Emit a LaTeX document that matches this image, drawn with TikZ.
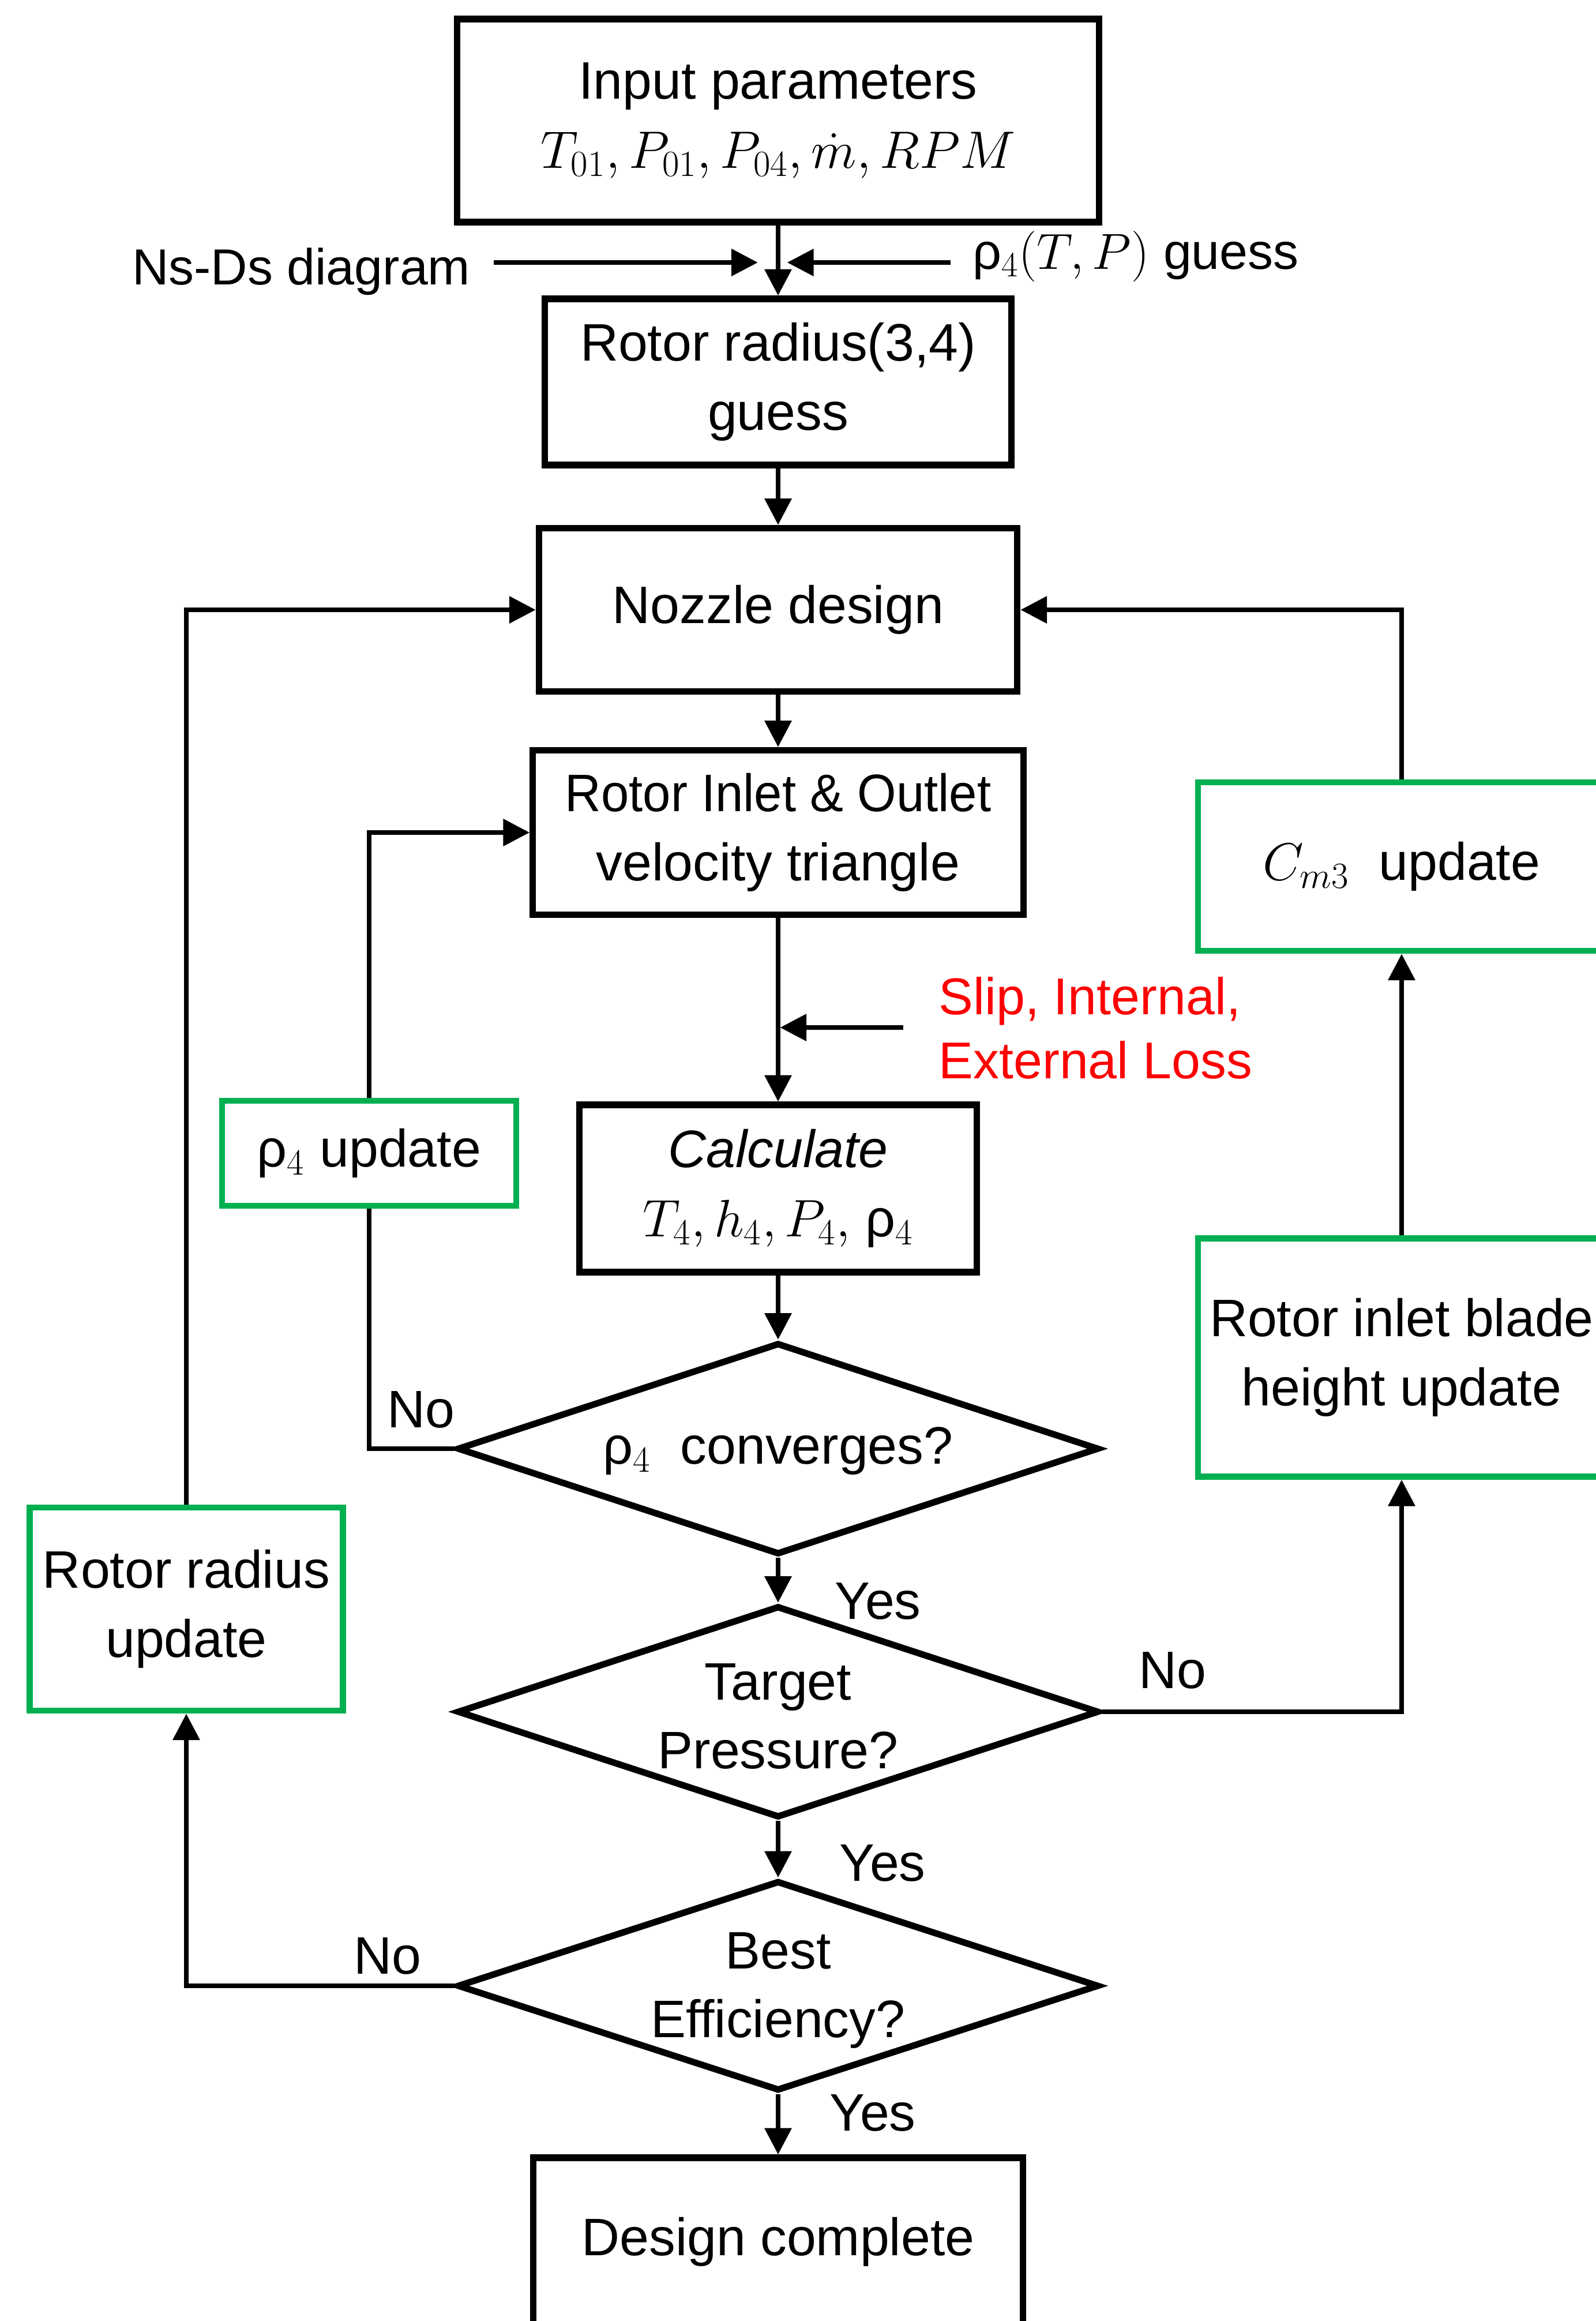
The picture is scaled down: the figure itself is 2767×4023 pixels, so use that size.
\RequirePackage{fix-cm}
\documentclass[tikz,border=0pt]{standalone}
\usepackage{fontspec}
\setmainfont{Liberation Sans}
\usepackage{graphicx}
\usetikzlibrary{arrows.meta,shapes.geometric}
\definecolor{boxgreen}{RGB}{0,176,80}
\definecolor{lossred}{RGB}{255,0,0}
\begin{document}
\begin{tikzpicture}[x=0.01cm,y=-0.01cm,
  every node/.style={font=\fontsize{26}{34}\selectfont},
  blk/.style={draw=black, line width=3.2pt, fill=white, align=center, inner sep=0pt},
  grn/.style={draw=boxgreen, line width=3pt, fill=white, align=center, inner sep=0pt},
  dia/.style={diamond, draw=black, line width=3.2pt, fill=white, inner sep=0pt, minimum width=11.12cm},
  conn/.style={line width=2.2pt, line join=miter},
  arr/.style={conn, -{Triangle[length=13pt,width=13pt]}},
  lbl/.style={inner sep=0pt},
  dtext/.style={inner sep=0pt, align=center}]
\path[use as bounding box, clip] (0,0) rectangle (2767,4023);
\fill[white] (0,0) rectangle (2767,4023);
% main column
\node[blk, minimum width=11.12cm, minimum height=3.52cm] (in) at (1349,209) {Input parameters\\$T_{01},P_{01},P_{04},\dot{m},RPM$};
\node[blk, minimum width=8.08cm, minimum height=2.88cm] (rg) at (1349,662) {Rotor radius(3,4)\\guess};
\node[blk, minimum width=8.29cm, minimum height=2.83cm] (nz) at (1349,1057) {Nozzle design};
\node[blk, minimum width=8.50cm, minimum height=2.85cm] (vt) at (1349,1443) {\scalebox{0.95}[1]{Rotor Inlet \& Outlet}\\velocity triangle};
\node[blk, minimum width=6.88cm, minimum height=2.90cm] (calc) at (1349,2060) {\textit{Calculate}\\$T_4,h_4,P_4,$ ρ$_4$};
\node[dia, minimum height=3.67cm] (d1) at (1349,2511) {};
\node[dtext] (d1t) at (1349,2515) {ρ$_4$\ \ converges?};
\node[dia, minimum height=3.67cm] (d2) at (1349,2967) {};
\node[dtext] (d2t) at (1349,2975) {Target\\Pressure?};
\node[dia, minimum height=3.64cm] (d3) at (1349,3442) {};
\node[dtext] (d3t) at (1349,3450) {Best\\Efficiency?};
\node[blk, minimum width=8.49cm, minimum height=2.92cm] (dc) at (1349,3886) {Design complete};
% green update boxes
\node[grn, minimum width=5.10cm, minimum height=1.82cm] (g1) at (640,1999) {ρ$_4$ update};
\node[grn, minimum width=5.43cm, minimum height=3.52cm] (g2) at (323,2789) {Rotor radius\\update};
\node[grn, minimum width=7.06cm, minimum height=2.92cm] (g3) at (2430,1502) {$C_{m3}$\ \ update};
\node[grn, minimum width=7.06cm, minimum height=4.13cm] (g4) at (2430,2353) {Rotor inlet blade\\height update};
% side inputs
\node[lbl, anchor=base east, font=\fontsize{25}{34}\selectfont] (ns) at (816,493) {Ns-Ds diagram};
\node[lbl, anchor=base west, font=\fontsize{25}{34}\selectfont] (rho) at (1686,466) {ρ$_4(T,P)$ guess};
\node[lbl, anchor=west, text=lossred, align=left, font=\fontsize{25.5}{31.5}\selectfont] (loss) at (1627,1782) {Slip, Internal,\\External Loss};
\coordinate (nsA) at (856,455);
\coordinate (rhoA) at (1648,455);
\coordinate (meet) at (1349,455);
\coordinate (slipA) at (1566,1781);
% connectors
\draw[arr] (in.south) -- (rg.north);
\draw[arr, shorten >=10pt] (nsA) -- (meet);
\draw[arr, shorten >=4.5pt] (rhoA) -- (meet);
\draw[arr] (rg.south) -- (nz.north);
\draw[arr] (nz.south) -- (vt.north);
\draw[arr] (vt.south) -- (calc.north);
\draw[arr, shorten >=1pt] (slipA) -- (slipA -| vt.south);
\draw[arr] (calc.south) -- (d1.north);
\draw[arr] (d1.south) -- (d2.north);
\draw[arr] (d2.south) -- (d3.north);
\draw[arr] (d3.south) -- (dc.north);
\draw[arr] (g2.north) |- (nz.west);
\draw[conn] (d1.west) -| (g1.south);
\draw[arr] (g1.north) |- (vt.west);
\draw[arr] (d3.west) -| (g2.south);
\draw[arr] (d2.east) -| (g4.south);
\draw[arr] (g4.north) -- (g3.south);
\draw[arr] (g3.north) |- (nz.east);
% labels
\node[lbl] (no1) at (730,2443) {No};
\node[lbl] (no2) at (672,3390) {No};
\node[lbl] (no3) at (2033,2895) {No};
\node[lbl] (yes1) at (1522,2775) {Yes};
\node[lbl] (yes2) at (1530,3229) {Yes};
\node[lbl] (yes3) at (1513,3662) {Yes};
\end{tikzpicture}
\end{document}
